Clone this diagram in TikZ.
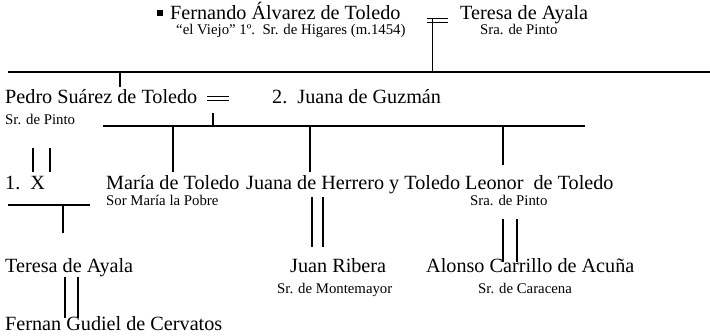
\documentclass[tikz,border=0pt]{standalone}
\usepackage{fontspec}
\setmainfont{Liberation Serif}
\newcommand\grand{\fontsize{20.2}{23}\selectfont}
\newcommand\petit{\fontsize{14.8}{17}\selectfont}
\tikzset{
  nom/.style={anchor=base west,inner sep=0pt,font=\grand},
  titre/.style={anchor=base west,inner sep=0pt,font=\petit},
  mariage/.style={inner sep=0pt,minimum width=21pt,minimum height=4pt},
  lien/.style={line width=1.8pt}
}
\begin{document}
\begin{tikzpicture}[x=1pt,y=-1pt]
\useasboundingbox (0,0) rectangle (710,335);
% 1re generation
\node[fill,inner sep=0pt,minimum size=6pt] (carre) at (160,13) {};
\node[nom] (fernando) at (170,19) {Fernando Álvarez de Toledo};
\node[titre] (viejo) at (176,34) {“el Viejo” 1º.\ \ Sr. de Higares (m.1454)};
\node[nom] (teresaA) at (460,19) {Teresa de Ayala};
\node[titre] (teresaAt) at (480,34) {Sra. de Pinto};
\node[mariage] (eqA) at (437.5,20) {};
\draw (eqA.north west) -- (eqA.north east) (eqA.south west) -- (eqA.south east);
\coordinate (b1w) at (8,72);
\coordinate (b1e) at (710,72);
\draw[lien] (b1w) -- (b1e);
\draw[lien] ([xshift=-5pt]eqA.north) -- ([xshift=-5pt]eqA.north |- b1w);
\coordinate (vP) at (120,87);
\draw[lien] (vP |- b1w) -- (vP);
% 2e generation
\node[nom] (pedro) at (5,103) {Pedro Suárez de Toledo};
\node[titre] (pedrot) at (5,124) {Sr. de Pinto};
\node[mariage] (eqB) at (218,98) {};
\draw (eqB.north west) -- (eqB.north east) (eqB.south west) -- (eqB.south east);
\node[nom] (juana) at (272,103) {2.\ \ Juana de Guzmán};
\coordinate (b2w) at (103,126);
\coordinate (b2e) at (585,126);
\draw[lien] (b2w) -- (b2e);
\coordinate (tB) at (213,113);
\draw[lien] (tB) -- (tB |- b2w);
\coordinate (vM) at (173,172);
\coordinate (vJ) at (310,172);
\coordinate (vL) at (503,165);
\foreach \v in {vM,vJ,vL} \draw[lien] (\v |- b2w) -- (\v);
% 3e generation
\node[nom] (x) at (5,189) {1.\ \ X};
\node[nom] (maria) at (106,189) {María de Toledo};
\node[titre] (mariat) at (106,205) {Sor María la Pobre};
\node[nom] (herrero) at (246,189) {Juana de Herrero y Toledo};
\node[nom] (leonor) at (465,189) {Leonor\ \ de Toledo};
\node[titre] (leonort) at (470,205) {Sra. de Pinto};
\coordinate (b3w) at (8,205);
\coordinate (b3e) at (90,205);
\draw[lien] (b3w) -- (b3e);
\coordinate (vT) at (63,233);
\draw[lien] (vT |- b3w) -- (vT);
% 4e generation
\node[nom] (teresaB) at (5,272) {Teresa de Ayala};
\node[nom] (juan) at (290,272) {Juan Ribera};
\node[titre] (juant) at (277,293) {Sr. de Montemayor};
\node[nom] (alonso) at (426,272) {Alonso Carrillo de Acuña};
\node[titre] (alonsot) at (478,293) {Sr. de Caracena};
\node[nom] (fernan) at (5,330) {Fernan Gudiel de Cervatos};
% doubles traits (x / ecart / haut / bas)
\foreach \a/\g/\h/\b in {33/17/148/172, 312/11/197/247, 503/14/219/262, 65/13/277/318}
  \draw[lien] (\a,\h) -- (\a,\b) (\a+\g,\h) -- (\a+\g,\b);
\end{tikzpicture}
\end{document}
